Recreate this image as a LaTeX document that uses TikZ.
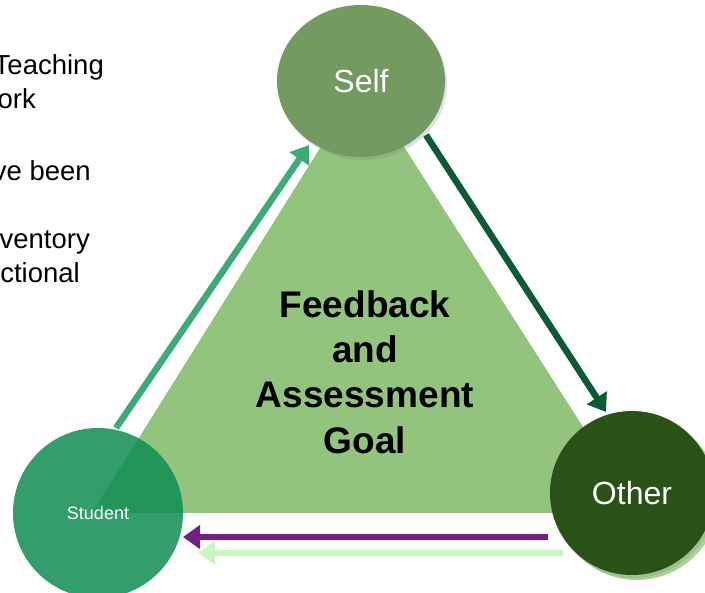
\documentclass[tikz,border=0pt]{standalone}
\usepackage{fontspec}
\setmainfont{Liberation Sans}
\usetikzlibrary{arrows.meta,shapes.geometric,shadows}
\definecolor{tri}{HTML}{93C47D}
\definecolor{selfc}{HTML}{739A61}
\definecolor{otherc}{HTML}{2A5116}
\definecolor{studc}{HTML}{0D8C51}
\definecolor{arrA}{HTML}{3DAA77}
\definecolor{arrB}{HTML}{0B5A33}
\definecolor{arrC}{HTML}{741E88}
\definecolor{arrD}{HTML}{CCF5C4}
\definecolor{halo}{HTML}{A9D494}
\begin{document}
\begin{tikzpicture}[x=1pt,y=-1pt,
  sidetext/.style={anchor=base east, inner sep=0pt, font=\fontsize{27.5}{33}\selectfont, text=black},
  role/.style={inner sep=0pt, text=white, drop shadow={opacity=0.25, shadow xshift=2pt, shadow yshift=-3pt}},
  bigarrow/.style={line width=6.5pt, -{Triangle[length=17pt,width=23pt]}}]
\useasboundingbox (0,0) rectangle (705,593);
\fill[white] (0,0) rectangle (705,593);

% left partial text
\node[sidetext] (t1) at (104,75) {Teaching};
\node[sidetext] (t2) at (36,109) {ork};
\node[sidetext] (t3) at (91,181) {ve been};
\node[sidetext] (t4) at (90,249) {ventory};
\node[sidetext] (t5) at (80,283) {ctional};

% triangle
\fill[tri] (362,81) -- (92,513) -- (638,513) -- cycle;

% goal text
\node[align=center, inner sep=0pt, font=\fontsize{37}{45.3}\selectfont\bfseries] (goal) at (365,372)
  {Feedback\\and\\Assessment\\Goal};

% arrow end points
\coordinate (a1) at (116,428);
\coordinate (a2) at (309,145);
\coordinate (b1) at (426,135);
\coordinate (b2) at (606,412);
\coordinate (c1) at (548,537);
\coordinate (c2) at (183,537);
\coordinate (d1) at (563,553);
\coordinate (d2) at (198,553);

\draw[bigarrow, arrA] (a1) -- (a2);
\draw[bigarrow, arrB] (b1) -- (b2);
\draw[bigarrow, arrC] (c1) -- (c2);
\draw[bigarrow, arrD] (d1) -- (d2);

% circles
\node[role, ellipse, fill=selfc, minimum width=168pt, minimum height=152pt,
  font=\fontsize{32}{38}\selectfont] (self) at (361,81) {Self};

\fill[halo] (637,498) circle (82);
\node[role, circle, fill=otherc, minimum size=164pt,
  font=\fontsize{32}{38}\selectfont] (other) at (632,493) {Other};

\node[circle, inner sep=0pt, fill=studc, fill opacity=0.84, text opacity=1, text=white,
  minimum size=170pt, font=\fontsize{18}{22}\selectfont] (student) at (98,513) {Student};
\end{tikzpicture}
\end{document}
